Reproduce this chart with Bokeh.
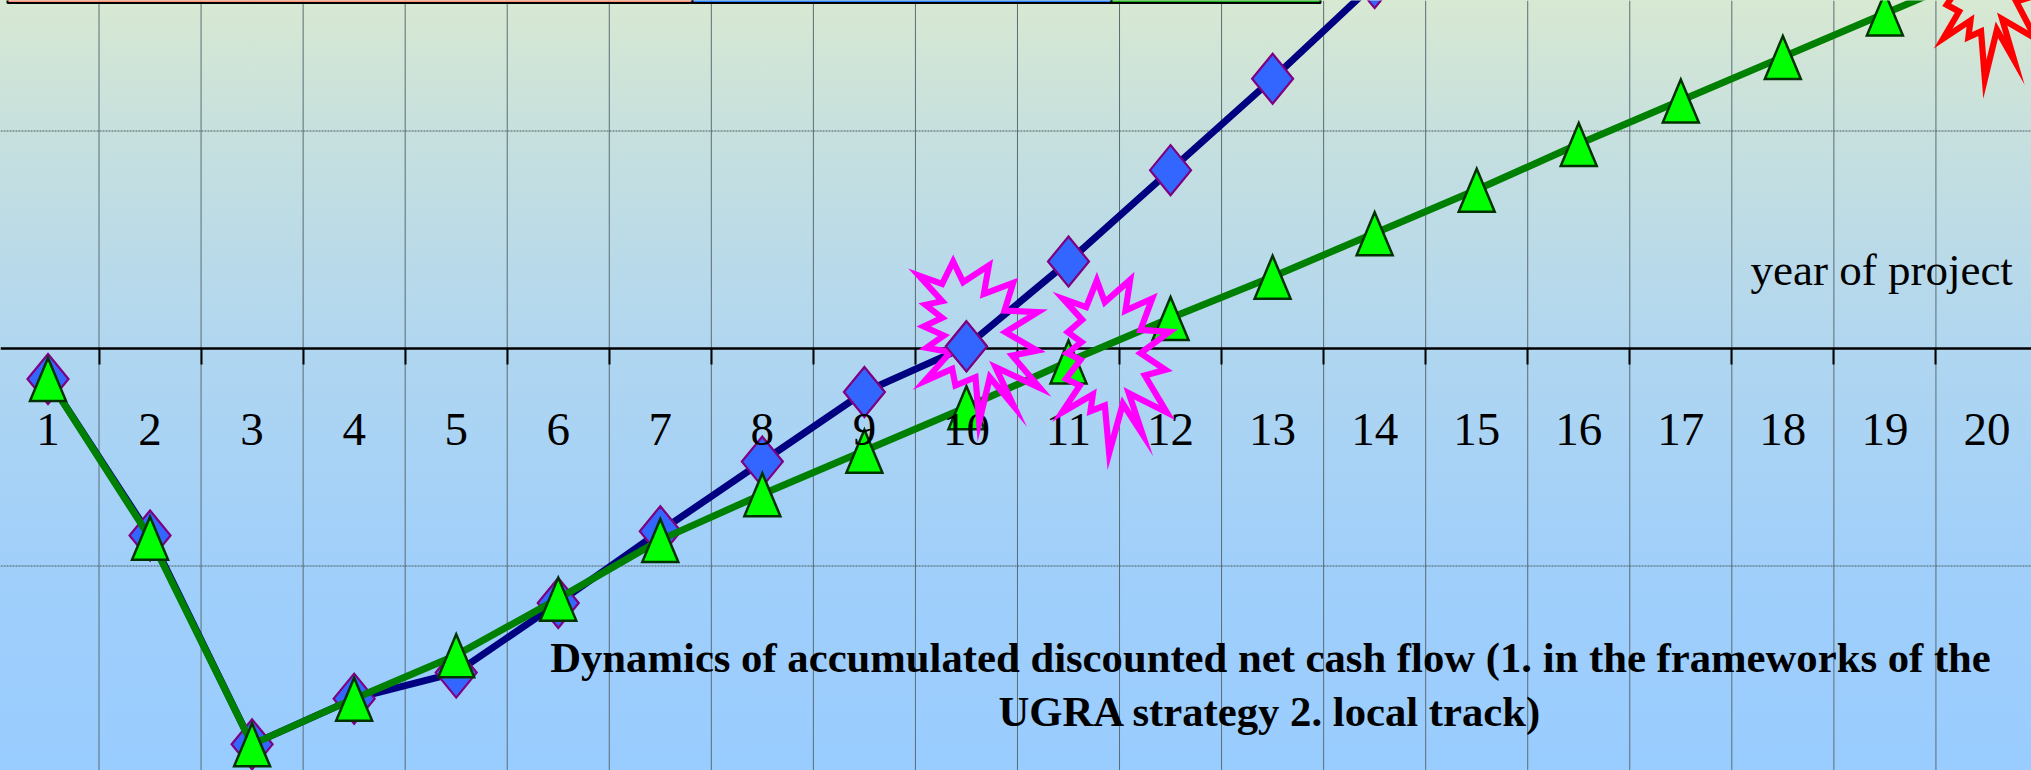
from bokeh.embed import file_html
from bokeh.models import FixedTicker, Label, LinearAxis, Range1d
from bokeh.plotting import figure
from bokeh.resources import INLINE

# Project years and accumulated discounted net cash flow for both tracks
years = list(range(1, 21))
ugra_strategy = [-14, -86, -182, -161, -149, -117, -84, -52, -20, 1, 40, 82, 124, 168]
local_track = [-14, -87, -182, -161, -141, -115, -88, -67, -47, -27, -6, 14, 33, 53, 73,
               94, 114, 134, 154, 174]
tick_labels = [str(y) for y in years]
year_ticks = [y + 0.5 for y in years]
value_gridlines = [-100, 100]

# Canvas mapping: pixels per year and per value unit, with the first year and zero placed
W, H = 2031, 770
PX_PER_YEAR = 102.05
PX_PER_UNIT = 2.175
FIRST_YEAR_PX = 47.5
ZERO_PX = 348.0


def data_x(px):
    return 1 + (px - FIRST_YEAR_PX) / PX_PER_YEAR


def data_y(px):
    return (ZERO_PX - px) / PX_PER_UNIT


def marker_outline(xs, ys, offsets):
    """One polygon per data point; offsets are pixels around the point."""
    polys_x = [[x + dx / PX_PER_YEAR for dx, _ in offsets] for x in xs]
    polys_y = [[y - dy / PX_PER_UNIT for _, dy in offsets] for y in ys]
    return polys_x, polys_y


DIAMOND = [(0, -25), (20.5, 0), (0, 25), (-20.5, 0)]
TRIANGLE = [(0, -21), (18, 22), (-18, 22)]

# Burst outlines, listed on a third-of-a-pixel grid
BURST_A = [(158, 63), (188, 125), (265, 75), (250, 160), (338, 127), (312, 210), (412, 215),
           (315, 275), (410, 330), (335, 345), (418, 442), (285, 380), (340, 497), (268, 410),
           (236, 545), (225, 410), (165, 435), (155, 385), (72, 422), (150, 335), (78, 322),
           (130, 285), (70, 258), (125, 232), (75, 193), (125, 182), (55, 105), (125, 130)]
BURST_B = [(154, 60), (178, 125), (254, 58), (240, 150), (320, 114), (285, 208), (372, 214),
           (285, 278), (360, 328), (298, 345), (364, 456), (250, 398), (291, 521), (232, 430),
           (191, 578), (178, 435), (135, 452), (142, 402), (49, 456), (103, 375), (61, 355),
           (105, 298), (65, 278), (108, 245), (67, 215), (110, 178), (53, 115), (122, 140)]


def burst(points, left, top, x_scale=1.0, x_shift=0.0, y_shift=0.0):
    xs = [data_x(left + (x_scale * x + x_shift) / 3) for x, _ in points]
    ys = [data_y(top + (y + y_shift) / 3) for _, y in points]
    return xs, ys


p = figure(
    width=W, height=H,
    x_range=Range1d(data_x(0), data_x(W)),
    y_range=Range1d(data_y(H), data_y(0)),
    x_axis_type=None, y_axis_type=None,
    toolbar_location=None, output_backend="svg",
    min_border=0, outline_line_color=None,
    background_fill_color=None, border_fill_color=None,
)
p.styles = {
    "background": "linear-gradient(180deg, #d8e9d2 0px, #c7e0de 131px, #b0d6f0 348px, "
                  "#a0cffa 566px, #99ccff 770px)"
}

# Horizontal axis line with separator ticks, kept beneath the series
tick_axis = LinearAxis(
    ticker=FixedTicker(ticks=year_ticks), fixed_location=0, level="underlay",
    axis_line_color="#000000", axis_line_width=2.5,
    major_tick_line_color="#000000", major_tick_line_width=2,
    major_tick_in=0, major_tick_out=16,
    minor_tick_line_color=None,
    major_label_text_color=None, major_label_text_font_size="1px",
)
p.add_layout(tick_axis, "below")

# Year numbers sit above the series, centred on each category
label_axis = LinearAxis(
    ticker=FixedTicker(ticks=years), fixed_location=0, level="annotation",
    axis_line_color=None, major_tick_line_color=None, minor_tick_line_color=None,
    major_label_overrides={y: t for y, t in zip(years, tick_labels)},
    major_label_text_font="Liberation Serif", major_label_text_font_size="47px",
    major_label_text_color="#000000", major_label_standoff=59,
)
p.add_layout(label_axis, "below")

# Grid lines are plain segments spanning the frame
p.segment(x0=year_ticks, x1=year_ticks, y0=data_y(H), y1=data_y(0),
          line_color="#5a6c74", line_width=1, level="underlay")
p.segment(x0=data_x(0), x1=data_x(W), y0=value_gridlines, y1=value_gridlines,
          line_color="#4a5a60", line_width=1, line_dash="2 1", level="underlay")

ugra_years = years[: len(ugra_strategy)]

# First track
p.line(ugra_years, ugra_strategy, line_color="#000080", line_width=7)
dx, dy = marker_outline(ugra_years, ugra_strategy, DIAMOND)
p.patches(dx, dy, fill_color="#3366ff", line_color="#800080", line_width=2.2, line_join="miter")

# Second track
p.line(years, local_track, line_color="#008000", line_width=7)
tx, ty = marker_outline(years, local_track, TRIANGLE)
p.patches(tx, ty, fill_color="#00ff00", line_color="#003300", line_width=2.5, line_join="miter")

# Burst callouts around the break-even years
for xs, ys, colour in [
    (*burst(BURST_A, 900, 240), "#ff00ff"),
    (*burst(BURST_B, 1045, 260), "#ff00ff"),
    (*burst(BURST_B, 1900, 0, 0.88, 85, -342), "#ff0000"),
]:
    p.patch(xs + xs[:1], ys + ys[:1], fill_color=None, line_color=colour, line_width=6.2,
            line_join="miter", level="overlay")

# The break-even diamond stays in front of its burst
break_even = [years.index(10)]
bx, by = marker_outline([ugra_years[i] for i in break_even],
                        [ugra_strategy[i] for i in break_even], DIAMOND)
p.patches(bx, by, fill_color="#3366ff", line_color="#800080", line_width=2.2,
          line_join="miter", level="overlay")

# Clipped strip of coloured boxes along the top edge
strip_edges = [7, 692, 1111, 1320]
strip_colours = ["#ff8f78", "#2a80ff", "#1cb01c"]
p.quad(left=[data_x(v) for v in strip_edges[:-1]], right=[data_x(v) for v in strip_edges[1:]],
       top=data_y(-5), bottom=data_y(2.4), fill_color=strip_colours,
       line_color="#000000", line_width=2)

LABEL_FONT = "Liberation Serif"
p.add_layout(Label(x=data_x(1750), y=data_y(269), text="year of project",
                   text_font=LABEL_FONT, text_font_size="45px", text_color="#000000",
                   text_baseline="alphabetic", text_align="left"))
for text, baseline_px in [
    ("Dynamics of accumulated discounted net cash flow (1. in the frameworks of the", 657),
    ("UGRA strategy 2. local track)", 711),
]:
    p.add_layout(Label(x=data_x(1270), y=data_y(baseline_px), text=text,
                       text_font=LABEL_FONT, text_font_style="bold", text_font_size="42.7px",
                       text_color="#000000", text_baseline="alphabetic", text_align="center"))

open("out.html", "w").write(file_html(p, INLINE))
